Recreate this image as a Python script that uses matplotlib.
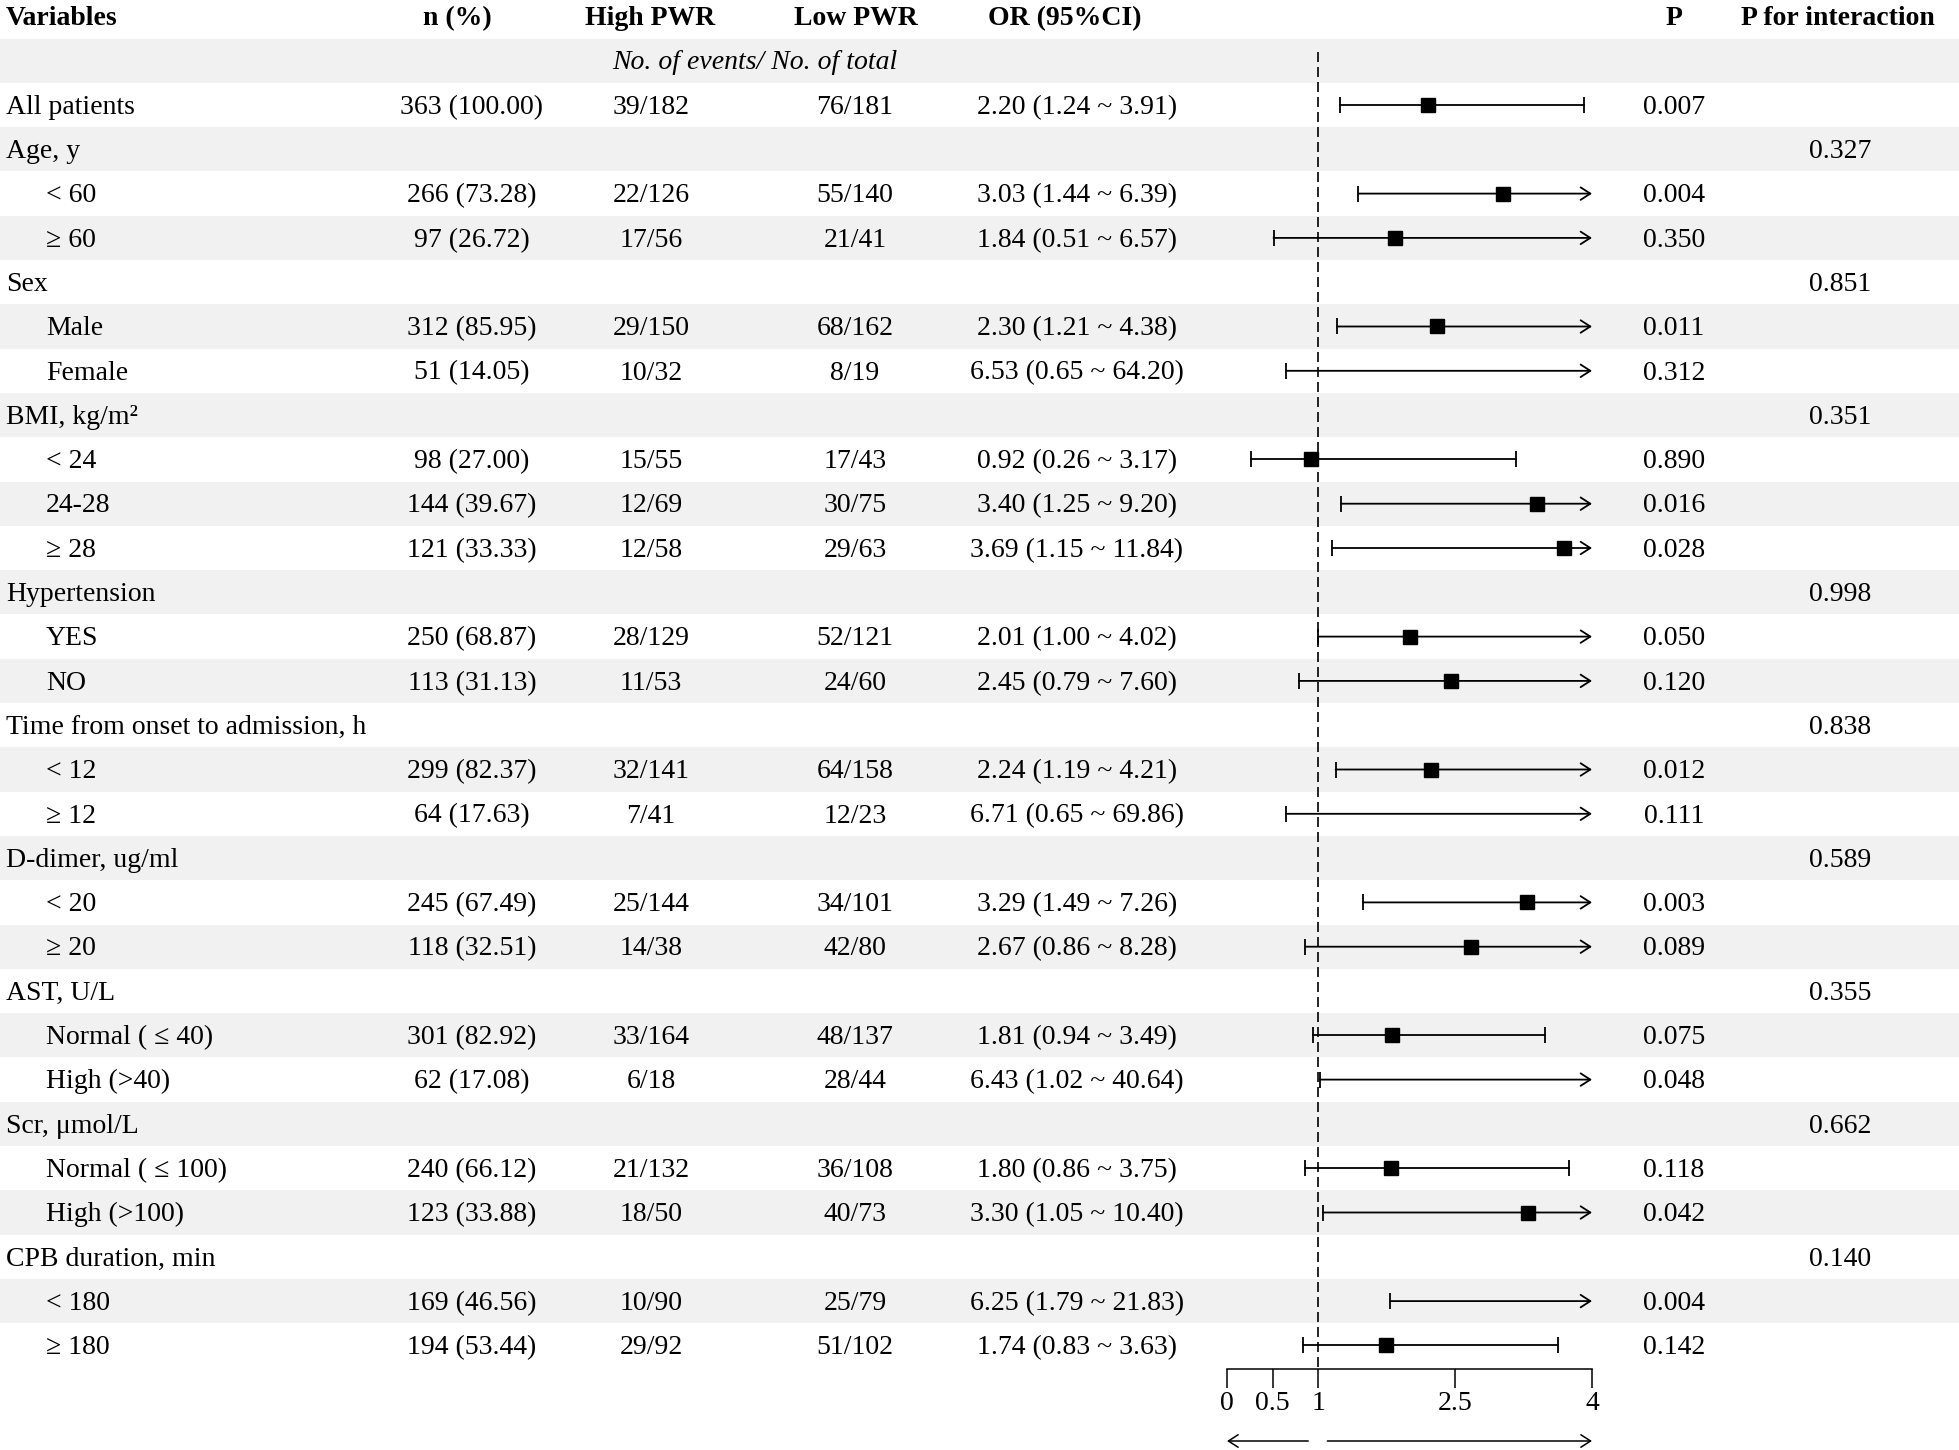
import matplotlib
matplotlib.use('Agg')
import matplotlib.pyplot as plt
import matplotlib.transforms as mtransforms

plt.rcParams['font.family'] = ['Liberation Serif', 'DejaVu Serif']

# 数据
labels = ['All patients', 'Age, y', '< 60', '≥ 60', 'Sex', 'Male', 'Female',
          'BMI, kg/m²', '< 24', '24-28', '≥ 28', 'Hypertension', 'YES', 'NO',
          'Time from onset to admission, h', '< 12', '≥ 12', 'D-dimer, ug/ml',
          '< 20', '≥ 20', 'AST, U/L', 'Normal ( ≤ 40)', 'High (>40)',
          'Scr, μmol/L', 'Normal ( ≤ 100)', 'High (>100)',
          'CPB duration, min', '< 180', '≥ 180']
is_sub = [False, False, True, True, False, True, True,
          False, True, True, True, False, True, True,
          False, True, True, False,
          True, True, False, True, True,
          False, True, True,
          False, True, True]
n_pct = ['363 (100.00)', '', '266 (73.28)', '97 (26.72)', '', '312 (85.95)', '51 (14.05)',
         '', '98 (27.00)', '144 (39.67)', '121 (33.33)', '', '250 (68.87)', '113 (31.13)',
         '', '299 (82.37)', '64 (17.63)', '',
         '245 (67.49)', '118 (32.51)', '', '301 (82.92)', '62 (17.08)',
         '', '240 (66.12)', '123 (33.88)',
         '', '169 (46.56)', '194 (53.44)']
high_pwr = ['39/182', '', '22/126', '17/56', '', '29/150', '10/32',
            '', '15/55', '12/69', '12/58', '', '28/129', '11/53',
            '', '32/141', '7/41', '',
            '25/144', '14/38', '', '33/164', '6/18',
            '', '21/132', '18/50',
            '', '10/90', '29/92']
low_pwr = ['76/181', '', '55/140', '21/41', '', '68/162', '8/19',
           '', '17/43', '30/75', '29/63', '', '52/121', '24/60',
           '', '64/158', '12/23', '',
           '34/101', '42/80', '', '48/137', '28/44',
           '', '36/108', '40/73',
           '', '25/79', '51/102']
or_est = [2.20, None, 3.03, 1.84, None, 2.30, 6.53,
          None, 0.92, 3.40, 3.69, None, 2.01, 2.45,
          None, 2.24, 6.71, None,
          3.29, 2.67, None, 1.81, 6.43,
          None, 1.80, 3.30,
          None, 6.25, 1.74]
or_lo = [1.24, None, 1.44, 0.51, None, 1.21, 0.65,
         None, 0.26, 1.25, 1.15, None, 1.00, 0.79,
         None, 1.19, 0.65, None,
         1.49, 0.86, None, 0.94, 1.02,
         None, 0.86, 1.05,
         None, 1.79, 0.83]
or_hi = [3.91, None, 6.39, 6.57, None, 4.38, 64.20,
         None, 3.17, 9.20, 11.84, None, 4.02, 7.60,
         None, 4.21, 69.86, None,
         7.26, 8.28, None, 3.49, 40.64,
         None, 3.75, 10.40,
         None, 21.83, 3.63]
p_val = ['0.007', '', '0.004', '0.350', '', '0.011', '0.312',
         '', '0.890', '0.016', '0.028', '', '0.050', '0.120',
         '', '0.012', '0.111', '',
         '0.003', '0.089', '', '0.075', '0.048',
         '', '0.118', '0.042',
         '', '0.004', '0.142']
p_inter = ['', '0.327', '', '', '0.851', '', '',
           '0.351', '', '', '', '0.998', '', '',
           '0.838', '', '', '0.589',
           '', '', '0.355', '', '',
           '0.662', '', '',
           '0.140', '', '']
headers = ['Variables', 'n (%)', 'High PWR', 'Low PWR', 'OR (95%CI)', 'P', 'P for interaction']
x_ticks = [0, 0.5, 1, 2.5, 4]

W, H = 1959, 1450
fig = plt.figure(figsize=(W / 100, H / 100), dpi=100)

row_h = 44.3
row0 = 16.4
y_top = -row0 / row_h
y_bot = (H - row0) / row_h

# 背景和文字
ax = fig.add_axes([0, 0, 1, 1])
ax.set_xlim(0, W)
ax.set_ylim(y_bot, y_top)
ax.axis('off')

nrows = len(labels) + 2
for i in range(1, nrows, 2):
    ax.axhspan(i - 0.5, i + 0.5, color='#f0f1f0', lw=0, zorder=0)

fs = 20
dy = 0.05
hx = [6, 457, 650, 856, 1065, 1674, 1838]
for j, h in enumerate(headers):
    ax.text(hx[j], 0 + dy, h, ha='left' if j == 0 else 'center', va='center',
            fontsize=fs, fontweight='bold')
ax.text(755, 1 + dy, 'No. of events/ No. of total', ha='center', va='center',
        fontsize=fs, style='italic')

for k, lab in enumerate(labels):
    y = k + 2 + dy
    ax.text(46 if is_sub[k] else 6, y, lab, ha='left', va='center', fontsize=fs)
    ax.text(472, y, n_pct[k], ha='center', va='center', fontsize=fs)
    ax.text(651, y, high_pwr[k], ha='center', va='center', fontsize=fs)
    ax.text(855, y, low_pwr[k], ha='center', va='center', fontsize=fs)
    if or_est[k] is not None:
        txt = f'{or_est[k]:.2f} ({or_lo[k]:.2f} ~ {or_hi[k]:.2f})'
        ax.text(1077, y, txt, ha='center', va='center', fontsize=fs)
    ax.text(1674, y, p_val[k], ha='center', va='center', fontsize=fs)
    ax.text(1840, y, p_inter[k], ha='center', va='center', fontsize=fs)

# 森林图
axis_px = 1369
x0, x1 = 1227, 1592
axf = fig.add_axes([x0 / W, 1 - axis_px / H, (x1 - x0) / W, axis_px / H])
axf.set_xlim(0, 4)
axf.set_ylim((axis_px - row0) / row_h, y_top)
axf.patch.set_alpha(0)
for s in ['top', 'right', 'left']:
    axf.spines[s].set_visible(False)
axf.spines['bottom'].set_linewidth(1.1)
axf.set_yticks([])
axf.set_xticks(x_ticks)
axf.set_xticklabels([f'{t:g}' for t in x_ticks])
axf.tick_params(axis='x', direction='out', length=14, width=1.1, pad=2, labelsize=fs)

axf.vlines(1, 0.8, (axis_px - row0) / row_h, colors='black', lw=1.2,
           linestyles=(0, (6, 3)), zorder=1)

lw = 1.3
for k in range(len(labels)):
    if or_est[k] is None:
        continue
    y = k + 2
    lo, hi, est = or_lo[k], or_hi[k], or_est[k]
    axf.plot([lo], [y], marker='|', ms=11, mew=lw, color='black', clip_on=False)
    if hi > 4:
        axf.annotate('', xy=(4, y), xytext=(lo, y), annotation_clip=False,
                     arrowprops=dict(arrowstyle='->,head_length=0.7,head_width=0.45',
                                     lw=lw, color='black', shrinkA=0, shrinkB=0))
    else:
        axf.plot([lo, hi], [y, y], color='black', lw=lw, clip_on=False)
        axf.plot([hi], [y], marker='|', ms=11, mew=lw, color='black', clip_on=False)
    if est <= 4:
        axf.plot([est], [y], marker='s', ms=9.5, color='black', zorder=3, clip_on=False)

# 底部箭头
trans = mtransforms.blended_transform_factory(axf.transData, fig.transFigure)
ya = 1 - 1441 / H
axf.annotate('', xy=(0, ya), xytext=(0.89, ya), xycoords=trans, textcoords=trans,
             annotation_clip=False,
             arrowprops=dict(arrowstyle='->,head_length=0.7,head_width=0.45',
                             lw=1.1, color='black', shrinkA=0, shrinkB=0))
axf.annotate('', xy=(4, ya), xytext=(1.1, ya), xycoords=trans, textcoords=trans,
             annotation_clip=False,
             arrowprops=dict(arrowstyle='->,head_length=0.7,head_width=0.45',
                             lw=1.1, color='black', shrinkA=0, shrinkB=0))

fig.savefig('out.png', dpi=100)
